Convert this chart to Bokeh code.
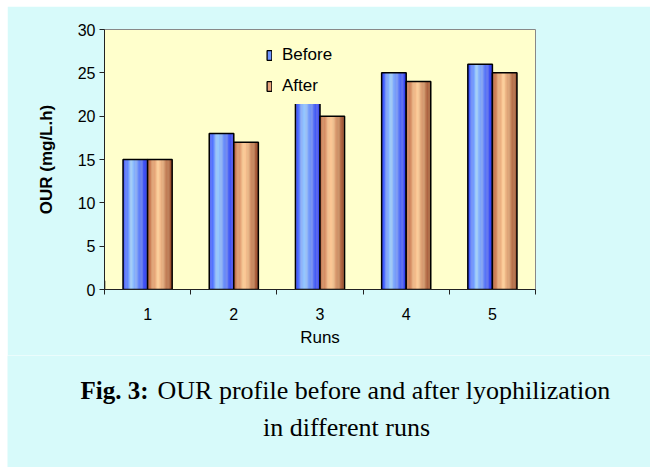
import numpy as np
from bokeh.plotting import figure
from bokeh.layouts import column, row
from bokeh.models import Range1d, FixedTicker, Legend, LegendItem, Spacer
from bokeh.core.properties import value
from bokeh.embed import file_html
from bokeh.resources import INLINE

# ---- data ----
runs = [1, 2, 3, 4, 5]
run_labels = ["1", "2", "3", "4", "5"]
before = [15, 18, 22, 25, 26]
after = [15, 17, 20, 24, 25]
y_ticks = [0, 5, 10, 15, 20, 25, 30]
series_names = ["Before", "After"]
caption_bold = "Fig. 3:"
caption_line1 = "OUR profile before and after lyophilization"
caption_line2 = "in different runs"

# ---- style ----
BG = "#d7fafa"
PLOT_BG = "#ffffcc"
SANS = "Liberation Sans"
SERIF = "Liberation Serif"
blue_stops = [(0.0, (40, 60, 255)), (0.35, (153, 204, 255)), (1.0, (40, 50, 240))]
orange_stops = [(0.0, (185, 100, 65)), (0.45, (255, 204, 153)), (1.0, (150, 70, 40))]


def interp(stops, t):
    for (t0, c0), (t1, c1) in zip(stops[:-1], stops[1:]):
        if t0 <= t <= t1:
            f = (t - t0) / (t1 - t0)
            c = [int(round(a + (b - a) * f)) for a, b in zip(c0, c1)]
            return "#%02x%02x%02x" % tuple(c)
    return "#%02x%02x%02x" % stops[-1][1]


p = figure(width=643, height=349, output_backend="svg", toolbar_location=None,
           x_range=Range1d(0.5, 5.5), y_range=Range1d(0, 30),
           min_border_left=97, min_border_right=115, min_border_top=23,
           min_border_bottom=66)
p.background_fill_color = PLOT_BG
p.border_fill_color = BG
p.outline_line_color = "#888888"
p.outline_line_width = 1
p.grid.visible = False

N = 20
bw = 0.285


def draw_series(vals, offset, stops):
    xs, tops, cols = [], [], []
    for r, v in zip(runs, vals):
        for k in range(N):
            t = (k + 0.5) / N
            xs.append(r + offset - bw / 2 + t * bw)
            tops.append(v)
            cols.append(interp(stops, t))
    p.vbar(x=xs, top=tops, bottom=0, width=bw / N * 1.15, fill_color=cols,
           line_color=None)
    p.vbar(x=[r + offset for r in runs], top=vals, bottom=0, width=bw,
           fill_color=None, line_color="black", line_width=1.5)


draw_series(before, -bw / 2, blue_stops)
draw_series(after, bw / 2, orange_stops)

# legend proxies (one point outside the visible range)
lb = p.vbar(x=[-10], top=[1], width=0.1, fill_color="#6f95ff", line_color="black", line_width=1.3)
la = p.vbar(x=[-10], top=[1], width=0.1, fill_color="#e8a47c", line_color="black", line_width=1.3)
legend = Legend(items=[LegendItem(label=series_names[0], renderers=[lb]),
                       LegendItem(label=series_names[1], renderers=[la])],
                location=(154, 185), orientation="vertical")
legend.background_fill_color = PLOT_BG
legend.background_fill_alpha = 1.0
legend.border_line_color = PLOT_BG
legend.border_line_alpha = 0.0
legend.padding = 8
legend.margin = 0
legend.spacing = 11
legend.glyph_width = 6
legend.glyph_height = 12
legend.label_height = 20
legend.label_standoff = 10
legend.label_text_font = SANS
legend.label_text_font_size = "17px"
legend.label_text_color = "black"
p.add_layout(legend, "center")

# axes
xa = p.xaxis[0]
xa.ticker = FixedTicker(ticks=runs, minor_ticks=[r - 0.5 for r in runs] + [runs[-1] + 0.5])
xa.major_label_overrides = {r: lab for r, lab in zip(runs, run_labels)}
xa.major_tick_out = 0
xa.major_tick_in = 0
xa.minor_tick_out = 5
xa.minor_tick_in = 0
xa.minor_tick_line_color = "#222222"
xa.axis_line_color = "#222222"
xa.axis_label = "Runs"
xa.axis_label_text_font = SANS
xa.axis_label_text_font_size = "17px"
xa.axis_label_text_font_style = "normal"
xa.axis_label_text_color = "black"
xa.axis_label_standoff = 5
xa.major_label_text_font = SANS
xa.major_label_text_font_size = "16px"
xa.major_label_text_color = "black"
xa.major_label_standoff = 13

ya = p.yaxis[0]
ya.ticker = FixedTicker(ticks=y_ticks, minor_ticks=[])
ya.major_tick_out = 5
ya.major_tick_in = 0
ya.major_tick_line_color = "#222222"
ya.axis_line_color = "#222222"
ya.major_label_text_font = SANS
ya.major_label_text_font_size = "16px"
ya.major_label_text_color = "black"
ya.major_label_standoff = 4
ya.axis_label = "OUR (mg/L.h)"
ya.axis_label_text_font = SANS
ya.axis_label_text_font_size = "17px"
ya.axis_label_text_font_style = "bold"
ya.axis_label_text_color = "black"
ya.axis_label_standoff = 19

# caption panel
CW, CH = 643, 112
cap = figure(width=CW, height=CH, output_backend="svg", toolbar_location=None,
             x_range=Range1d(0, CW), y_range=Range1d(CH, 0), min_border=0,
             x_axis_location=None, y_axis_location=None)
cap.grid.visible = False
cap.outline_line_color = None
cap.background_fill_color = BG
cap.border_fill_color = BG
cap.text(x=[73], y=[35], text=[caption_bold], text_font=value(SERIF),
         text_font_size="25px", text_font_style="bold", text_color="black",
         text_align="left", text_baseline="alphabetic")
cap.text(x=[150], y=[35], text=[caption_line1], text_font=value(SERIF),
         text_font_size="26px", text_color="black",
         text_align="left", text_baseline="alphabetic")
cap.text(x=[339], y=[72], text=[caption_line2], text_font=value(SERIF),
         text_font_size="26px", text_color="black",
         text_align="center", text_baseline="alphabetic")

layout = column(Spacer(height=6),
                row(Spacer(width=7), p, spacing=0),
                row(Spacer(width=7), cap, spacing=0),
                spacing=0)

open("out.html", "w").write(file_html(layout, INLINE))
